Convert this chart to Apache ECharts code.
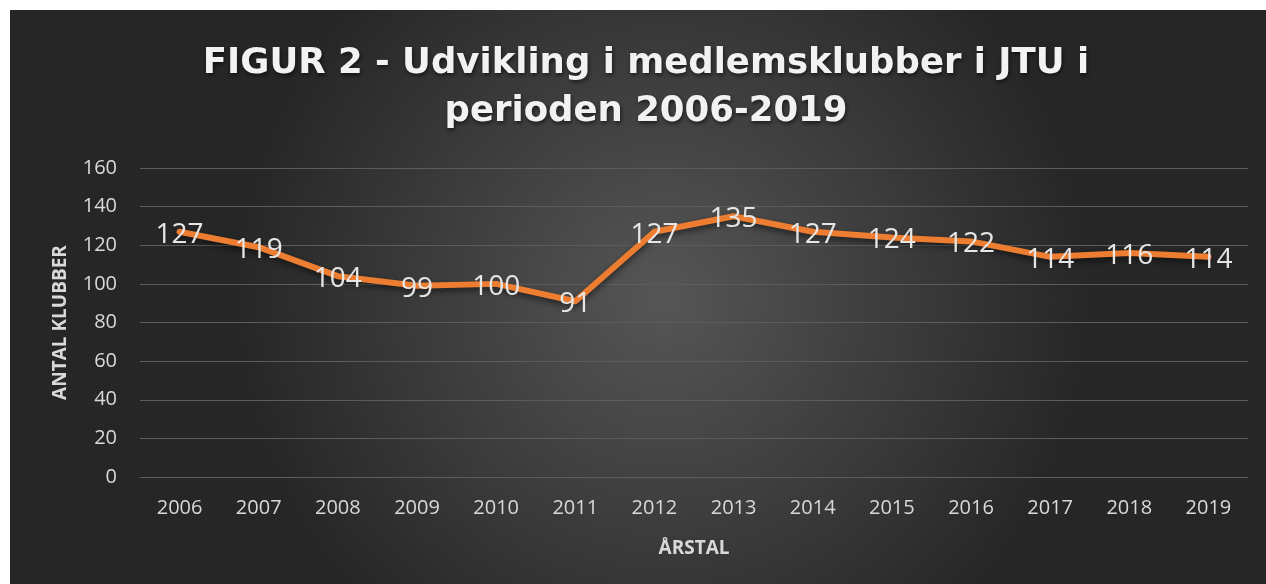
<!DOCTYPE html>
<html>
<head>
<meta charset="utf-8">
<script src="https://cdn.jsdelivr.net/npm/echarts@6/dist/echarts.min.js"></script>
<style>
html,body{margin:0;padding:0;background:#fff;}
#c{width:1266px;height:584px;}
</style>
</head>
<body>
<div id="c"></div>
<script>
var years = ['2006','2007','2008','2009','2010','2011','2012','2013','2014','2015','2016','2017','2018','2019'];
var clubs = [127,119,104,99,100,91,127,135,127,124,122,114,116,114];
var yTicks = {min:0, max:160, interval:20};
var titleText = 'FIGUR 2 - Udvikling i medlemsklubber i JTU i\nperioden 2006-2019';
var yName = 'ANTAL KLUBBER';
var xName = 'ÅRSTAL';

var chart = echarts.init(document.getElementById('c'));
chart.setOption({
  backgroundColor: '#ffffff',
  animation: false,
  graphic: [{
    type: 'rect', left: 10, top: 10, z: -10, silent: true,
    shape: {width: 1256, height: 574},
    style: {fill: new echarts.graphic.RadialGradient(0.52, 0.5, 0.75, [
      {offset: 0, color: '#565656'},
      {offset: 1, color: '#262626'}
    ])}
  }],
  title: {
    text: titleText,
    left: 641, top: 35, textAlign: 'center',
    textStyle: {
      fontFamily: 'DejaVu Sans', fontWeight: 'bold', fontSize: 35.5, lineHeight: 48,
      color: '#f2f2f2', textShadowColor: 'rgba(0,0,0,0.6)', textShadowBlur: 4, textShadowOffsetX: 1, textShadowOffsetY: 2
    }
  },
  grid: {left: 140, right: 18, top: 168, bottom: 107},
  xAxis: {
    type: 'category', data: years, boundaryGap: true,
    name: xName, nameLocation: 'middle', nameGap: 62,
    nameTextStyle: {fontFamily: 'Open Sans', fontWeight: 'bold', fontSize: 19, color: '#d9d9d9'},
    axisLine: {show: true, lineStyle: {color: '#5c5c5c', width: 1}},
    axisTick: {show: false},
    axisLabel: {fontFamily: 'Open Sans', fontSize: 20, color: '#d9d9d9', margin: 21}
  },
  yAxis: {
    type: 'value', min: yTicks.min, max: yTicks.max, interval: yTicks.interval,
    name: yName, nameLocation: 'middle', nameGap: 70, nameRotate: 90,
    nameTextStyle: {fontFamily: 'Open Sans', fontWeight: 'bold', fontSize: 19, color: '#d9d9d9'},
    axisLine: {show: false}, axisTick: {show: false},
    axisLabel: {fontFamily: 'Open Sans', fontSize: 20, color: '#d9d9d9', margin: 23},
    splitLine: {lineStyle: {color: '#5c5c5c', width: 1}}
  },
  series: [{
    type: 'line', data: clubs, symbol: 'circle', symbolSize: 0, showSymbol: true,
    lineStyle: {color: '#ED7D31', width: 6, shadowColor: 'rgba(0,0,0,0.55)', shadowBlur: 6, shadowOffsetY: 3, cap: 'round', join: 'round'},
    itemStyle: {color: '#ED7D31'},
    label: {show: true, position: 'inside', offset: [0, 3], fontFamily: 'Open Sans', fontSize: 28, color: '#e6e6e6'},
    z: 3
  }]
});
</script>
</body>
</html>
